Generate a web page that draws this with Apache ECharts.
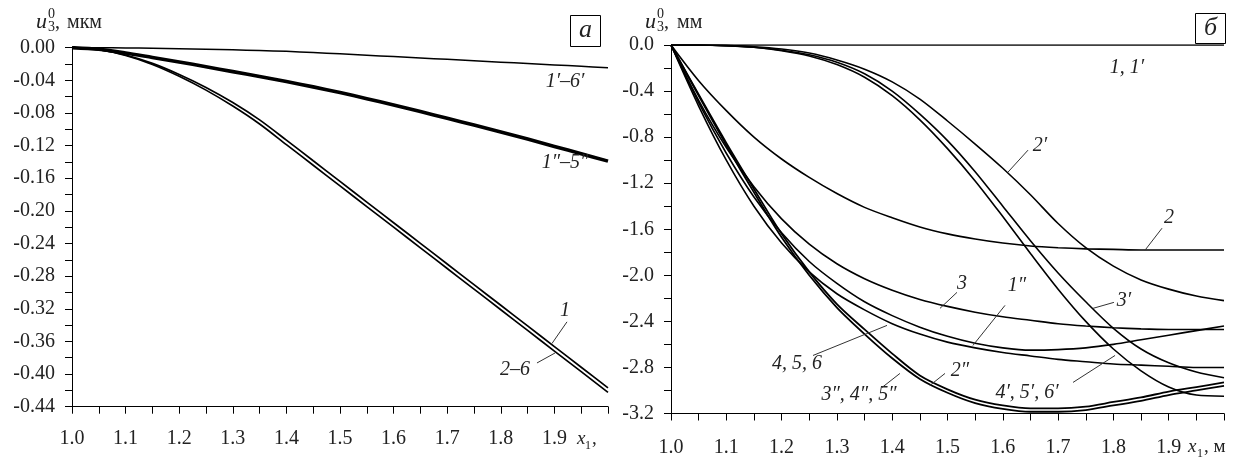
<!DOCTYPE html>
<html><head><meta charset="utf-8">
<script src="https://cdn.jsdelivr.net/npm/echarts@6/dist/echarts.min.js"></script>
<style>html,body{margin:0;padding:0;background:#fff}#c{width:1237px;height:459px}</style>
</head><body><div id="c"></div>
<script>
// ---- shared x grid (x1, m) ----
const xs = [1.0,1.05,1.1,1.15,1.2,1.25,1.3,1.35,1.4,1.45,1.5,1.55,1.6,1.65,1.7,1.75,1.8,1.85,1.9,1.95,2.0];

// ---- panel а : u3^0, мкм ----
const a_1p_6p = [0,-0.0001,-0.0003,-0.0007,-0.0012,-0.0018,-0.0026,-0.0035,-0.0045,-0.0059,-0.0075,-0.0092,-0.0109,-0.0126,-0.0143,-0.016,-0.0177,-0.0194,-0.0211,-0.0228,-0.0245];
const a_1pp_5pp = [0,-0.002,-0.0065,-0.012,-0.0175,-0.0233,-0.0293,-0.0353,-0.0415,-0.048,-0.055,-0.0625,-0.0703,-0.0783,-0.0865,-0.0948,-0.1033,-0.112,-0.121,-0.130,-0.139];
const a_1 = [0,-0.0024,-0.009,-0.0192,-0.0328,-0.0487,-0.0672,-0.0885,-0.1133,-0.1386,-0.1639,-0.1892,-0.2145,-0.2398,-0.2651,-0.2904,-0.3157,-0.341,-0.3663,-0.3916,-0.4169];
const a_2_6 = [0,-0.0025,-0.0095,-0.0205,-0.035,-0.052,-0.0715,-0.0935,-0.1188,-0.1441,-0.1694,-0.1947,-0.22,-0.2453,-0.2706,-0.2959,-0.3212,-0.3465,-0.3718,-0.3971,-0.4224];

// ---- panel б : u3^0, мм ----
const b_1_1p = [0,0,0,0,0,0,0,0,0,0,0,0,0,0,0,0,0,0,0,0,0];
const b_2 = [0,-0.31,-0.57,-0.8,-0.99,-1.15,-1.29,-1.41,-1.5,-1.58,-1.64,-1.685,-1.72,-1.745,-1.76,-1.77,-1.775,-1.78,-1.78,-1.78,-1.78];
const b_3 = [0,-0.48,-0.89,-1.23,-1.51,-1.73,-1.9,-2.03,-2.13,-2.21,-2.27,-2.32,-2.36,-2.39,-2.42,-2.44,-2.455,-2.465,-2.47,-2.47,-2.47];
const b_456 = [0,-0.53,-1.0,-1.4,-1.72,-1.97,-2.16,-2.3,-2.42,-2.51,-2.58,-2.63,-2.67,-2.70,-2.73,-2.75,-2.77,-2.78,-2.79,-2.80,-2.80];
const b_1pp = [0,-0.5,-0.94,-1.32,-1.63,-1.88,-2.07,-2.23,-2.35,-2.45,-2.53,-2.59,-2.63,-2.65,-2.645,-2.63,-2.6,-2.56,-2.52,-2.48,-2.44];
const b_2pp = [0,-0.43,-0.85,-1.25,-1.64,-1.97,-2.25,-2.47,-2.68,-2.87,-2.99,-3.08,-3.13,-3.155,-3.155,-3.14,-3.1,-3.06,-3.01,-2.97,-2.93];
const b_345pp = [0,-0.44,-0.87,-1.28,-1.67,-2.0,-2.28,-2.51,-2.72,-2.9,-3.02,-3.11,-3.16,-3.185,-3.185,-3.17,-3.13,-3.09,-3.04,-3.0,-2.96];
const b_2p = [0,0,-0.005,-0.015,-0.035,-0.07,-0.13,-0.21,-0.32,-0.47,-0.66,-0.86,-1.07,-1.3,-1.55,-1.76,-1.92,-2.04,-2.12,-2.18,-2.22];
const b_3p = [0,0,-0.005,-0.02,-0.045,-0.085,-0.15,-0.25,-0.4,-0.6,-0.83,-1.1,-1.4,-1.7,-1.98,-2.23,-2.46,-2.64,-2.76,-2.84,-2.89];
const b_456p = [0,0,-0.005,-0.02,-0.05,-0.095,-0.17,-0.28,-0.44,-0.65,-0.9,-1.18,-1.49,-1.81,-2.12,-2.4,-2.64,-2.83,-2.97,-3.04,-3.05];

// ---- curve labels (text, label x/y, leader from -> to), in data units ----
const notesA = [
  {t:'1′–6′', x:1.92, y:-0.042},
  {t:'1″–5″', x:1.92, y:-0.1414},
  {t:'1', x:1.920, y:-0.3229, l:[1.9235,-0.336,1.8955,-0.3625]},
  {t:'2–6', x:1.8265, y:-0.395, l:[1.8675,-0.3864,1.9011,-0.3742]}
];
const notesB = [
  {t:'1, 1′', x:1.8246, y:-0.20},
  {t:'2', x:1.9005, y:-1.504, l:[1.8879,-1.591,1.857,-1.783]},
  {t:'2′', x:1.667, y:-0.878, l:[1.6456,-0.913,1.6094,-1.104]},
  {t:'3', x:1.526, y:-2.07, l:[1.5172,-2.148,1.4864,-2.287]},
  {t:'3′', x:1.819, y:-2.217, l:[1.801,-2.235,1.763,-2.287]},
  {t:'1″', x:1.6257, y:-2.087, l:[1.604,-2.261,1.546,-2.609]},
  {t:'2″', x:1.5226, y:-2.826, l:[1.4955,-2.852,1.468,-2.957]},
  {t:'4, 5, 6', x:1.2278, y:-2.765, l:[1.2568,-2.696,1.3906,-2.435]},
  {t:'3″, 4″, 5″', x:1.34, y:-3.035, l:[1.3816,-2.974,1.414,-2.852]},
  {t:'4′, 5′, 6′', x:1.6438, y:-3.017, l:[1.727,-2.93,1.803,-2.696]}
];

const FONT = '"Liberation Serif","Times New Roman",serif';
const pairs = ys => xs.map((x, i) => [x, ys[i]]);

function line(name, ys, gi, w) {
  return {type:'line', name, xAxisIndex:gi, yAxisIndex:gi, data:pairs(ys), showSymbol:false, symbol:'none',
    smooth:0.3, lineStyle:{color:'#000', width:w||1.6}, z:3, silent:true};
}
function notes(list, gi) {
  return {type:'custom', xAxisIndex:gi, yAxisIndex:gi, silent:true, clip:false, z:6,
    data:list.map(n => [n.x, n.y]),
    renderItem:(p, api) => {
      const n = list[p.dataIndex];
      const c = api.coord([n.x, n.y]);
      const ch = [{type:'text', style:{text:n.t, x:c[0], y:c[1], align:'center', verticalAlign:'middle',
        font:'italic 20px ' + FONT, fill:'#222'}}];
      if (n.l) {
        const a = api.coord([n.l[0], n.l[1]]), b = api.coord([n.l[2], n.l[3]]);
        ch.push({type:'line', shape:{x1:a[0], y1:a[1], x2:b[0], y2:b[1]}, style:{stroke:'#333', lineWidth:1}});
      }
      return {type:'group', children:ch};
    }};
}
function xAxis(gi, margin) {
  return {type:'value', gridIndex:gi, min:1, max:2, interval:0.1,
    axisLine:{show:true, onZero:false, lineStyle:{color:'#000', width:1}},
    axisTick:{show:true, inside:false, length:7, lineStyle:{color:'#000'}},
    minorTick:{show:true, splitNumber:2, length:7, lineStyle:{color:'#000'}},
    splitLine:{show:false},
    axisLabel:{margin, color:'#222', fontFamily:FONT, fontSize:20, formatter:v => v > 1.99 ? '' : v.toFixed(1)}};
}
function yAxis(gi, min, interval, dec) {
  return {type:'value', gridIndex:gi, min, max:0, interval,
    axisLine:{show:true, onZero:false, lineStyle:{color:'#000', width:1}},
    axisTick:{show:true, inside:false, length:7, lineStyle:{color:'#000'}},
    minorTick:{show:true, splitNumber:2, length:7, lineStyle:{color:'#000'}},
    splitLine:{show:false},
    axisLabel:{margin:17, color:'#222', fontFamily:FONT, fontSize:20, formatter:v => v.toFixed(dec)}};
}
function t(text, x, y, size, italic, align) {
  return {type:'text', x, y, silent:true, style:{text, font:(italic?'italic ':'') + size + 'px ' + FONT,
    fill:'#222', align:align||'left', verticalAlign:'middle'}};
}

const chart = echarts.init(document.getElementById('c'), null, {renderer:'canvas'});
chart.setOption({
  animation:false,
  backgroundColor:'#fff',
  grid:[
    {left:72, top:47.7, width:536, height:359},
    {left:671, top:45, width:553, height:368.5}
  ],
  xAxis:[xAxis(0, 22), xAxis(1, 24)],
  yAxis:[yAxis(0, -0.44, 0.04, 2), yAxis(1, -3.2, 0.4, 1)],
  series:[
    line('1′–6′', a_1p_6p, 0, 1.5),
    line('1″–5″', a_1pp_5pp, 0, 3.6),
    line('1', a_1, 0, 1.7),
    line('2–6', a_2_6, 0, 1.7),
    notes(notesA, 0),
    line('1, 1′', b_1_1p, 1, 1.5),
    line('2', b_2, 1),
    line('3', b_3, 1),
    line('4, 5, 6', b_456, 1),
    line('1″', b_1pp, 1),
    line('2″', b_2pp, 1, 1.8),
    line('3″, 4″, 5″', b_345pp, 1, 1.8),
    line('2′', b_2p, 1),
    line('3′', b_3p, 1),
    line('4′, 5′, 6′', b_456p, 1),
    notes(notesB, 1)
  ],
  graphic:[
    // panel а axis names
    t('u', 36, 22.3, 22, true), t('0', 48, 14, 14, false), t('3', 48, 27.5, 14, false),
    t(',', 55, 22.6, 20, false), t('мкм', 67, 22.6, 20, false),
    t('x', 577, 438.6, 19, true), t('1', 585, 446, 12, false), t(',', 592, 438.6, 19, false),
    // panel б axis names
    t('u', 645, 22.3, 22, true), t('0', 657, 14, 14, false), t('3', 657, 27.5, 14, false),
    t(',', 664, 22.6, 20, false), t('мм', 677, 22.6, 20, false),
    t('x', 1188, 446.6, 19, true), t('1', 1197, 454, 12, false), t(', м', 1204, 446.6, 19, false),
    // panel tags
    {type:'rect', silent:true, shape:{x:570.5, y:15.5, width:30, height:31}, style:{fill:'#fff', stroke:'#000', lineWidth:1}},
    t('а', 585.5, 30, 26, true, 'center'),
    {type:'rect', silent:true, shape:{x:1195.5, y:13.5, width:30, height:30}, style:{fill:'#fff', stroke:'#000', lineWidth:1}},
    t('б', 1210.5, 28, 26, true, 'center')
  ]
});
</script>
</body></html>
